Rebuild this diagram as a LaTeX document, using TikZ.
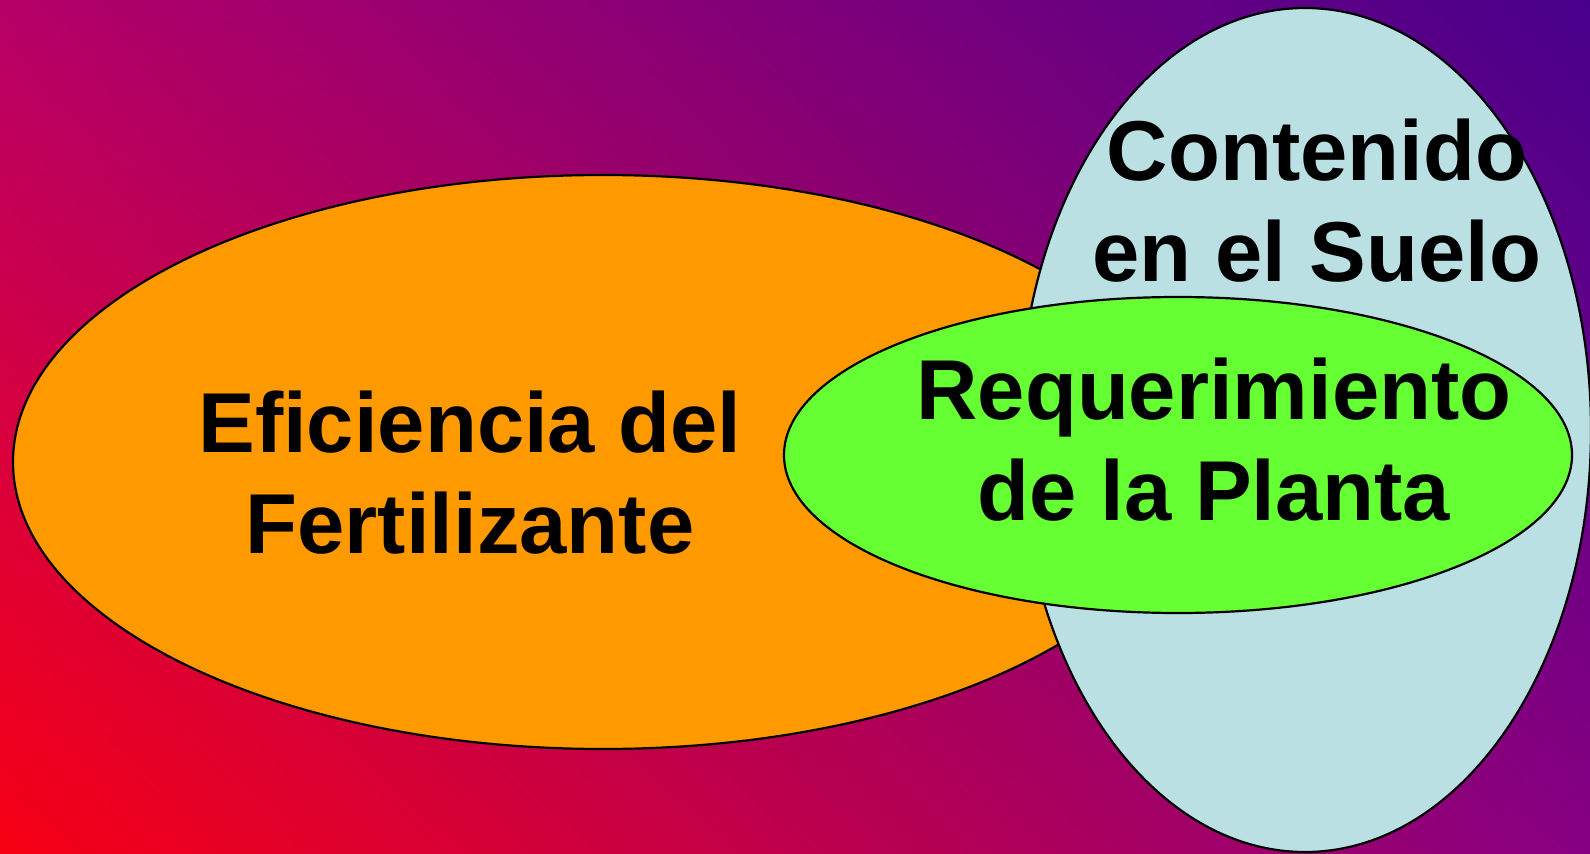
\documentclass[tikz,border=0pt]{standalone}
\usepackage{fontspec}
\setmainfont{Liberation Sans}
\usetikzlibrary{shadings}
\definecolor{bgred}{RGB}{248,0,20}
\definecolor{bgpink}{RGB}{182,0,104}
\definecolor{bgplum}{RGB}{135,0,130}
\definecolor{bgindigo}{RGB}{72,0,140}
\definecolor{orangefill}{RGB}{255,153,0}
\definecolor{soilfill}{RGB}{187,224,227}
\definecolor{plantfill}{RGB}{102,255,51}

\begin{document}
\begin{tikzpicture}[x=0.5pt,y=0.5pt,
  blob/.style={draw=black, line width=1.1pt},
  label/.style={font=\bfseries\fontsize{42.5}{50.5}\selectfont, align=center, inner sep=0pt, anchor=base}]
\useasboundingbox (0,0) rectangle (1590,853);
\clip (0,0) rectangle (1590,853);
\shade[lower left=bgred, upper left=bgpink, lower right=bgplum, upper right=bgindigo] (0,0) rectangle (1590,853);
% the three sets
\filldraw[blob, fill=orangefill] (603,391) ellipse (590 and 287);
\filldraw[blob, fill=soilfill] (1305,423) ellipse (286 and 422);
\filldraw[blob, fill=plantfill] (1178,398) ellipse (394 and 158);
% base anchor sits on the last line
\node[label] (efic) at (470,300) {Eficiencia del\\Fertilizante};
\node[label] (suelo) at (1317,571) {Contenido\\en el Suelo};
\node[label] (planta) at (1214,333) {Requerimiento\\de la Planta};
\end{tikzpicture}
\end{document}
